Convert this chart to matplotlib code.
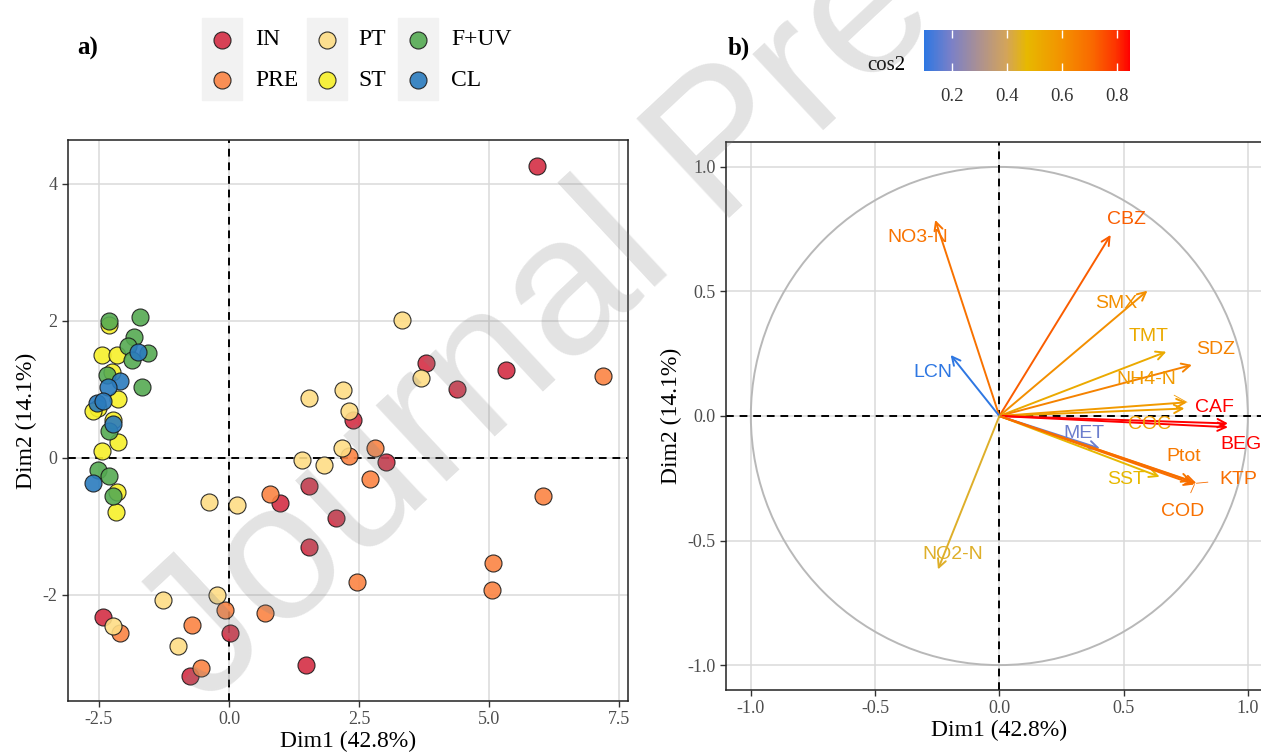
import numpy as np
import matplotlib
matplotlib.use('Agg')
import matplotlib.pyplot as plt
from matplotlib import colors
from matplotlib.cm import ScalarMappable
from matplotlib.patches import Circle, Rectangle

# Data
# =============================================================================

# a) individuals, one pair of lists per group
groups = ['IN', 'PRE', 'PT', 'ST', 'F+UV', 'CL']
group_colors = ['#D42E45', '#FB8444', '#FEDD85', '#F7F02A', '#55AA52', '#2A7BBE']

in_x = [5.92, 3.79, 5.33, 4.39, 2.38, 3.02, 1.54, 0.99, 2.06, 1.54, -2.42, 0.01, -0.75, 1.49]
in_y = [4.26, 1.38, 1.28, 1.01, 0.55, -0.06, -0.41, -0.66, -0.88, -1.30, -2.32, -2.56, -3.18, -3.02]
pre_x = [7.19, 2.31, 2.81, 2.72, 6.03, 0.79, 2.46, -0.08, 0.69, -2.10, -0.72, -0.53, 5.08, 5.06]
pre_y = [1.19, 0.03, 0.15, -0.30, -0.55, -0.52, -1.81, -2.22, -2.26, -2.56, -2.44, -3.07, -1.53, -1.93]
pt_x = [3.32, 3.70, 1.53, 2.20, 2.31, 2.17, 1.40, 1.83, -1.26, -0.23, -2.23, -0.99, -0.38, 0.15]
pt_y = [2.01, 1.17, 0.88, 0.99, 0.69, 0.14, -0.03, -0.11, -2.07, -2.00, -2.45, -2.74, -0.64, -0.69]
st_x = [-2.31, -2.45, -2.15, -2.25, -2.13, -2.52, -2.62, -2.23, -2.13, -2.44, -2.15, -2.17]
st_y = [1.94, 1.50, 1.50, 1.26, 0.86, 0.73, 0.69, 0.55, 0.23, 0.10, -0.50, -0.79]
fuv_x = [-2.31, -1.71, -1.83, -1.95, -1.55, -1.87, -2.35, -1.67, -2.31, -2.52, -2.31, -2.23]
fuv_y = [2.00, 2.05, 1.77, 1.63, 1.53, 1.43, 1.21, 1.04, 0.39, -0.18, -0.26, -0.55]
cl_x = [-1.75, -2.10, -2.33, -2.54, -2.42, -2.23, -2.62]
cl_y = [1.55, 1.12, 1.04, 0.80, 0.83, 0.50, -0.36]

group_x = [in_x, pre_x, pt_x, st_x, fuv_x, cl_x]
group_y = [in_y, pre_y, pt_y, st_y, fuv_y, cl_y]

# b) variables (coordinates on Dim1 / Dim2)
var_names = ['NO3-N', 'CBZ', 'SMX', 'TMT', 'SDZ', 'NH4-N', 'COC', 'CAF', 'BEG',
             'MET', 'SST', 'Ptot', 'COD', 'KTP', 'LCN', 'NO2-N']
var_dim1 = [-0.258, 0.448, 0.596, 0.672, 0.775, 0.755, 0.745, 0.920, 0.920,
            0.404, 0.645, 0.775, 0.785, 0.793, -0.196, -0.247]
var_dim2 = [0.787, 0.727, 0.503, 0.258, 0.205, 0.055, 0.030, -0.030, -0.045,
            -0.130, -0.244, -0.262, -0.275, -0.270, 0.245, -0.616]

x_ticks_a = [-2.5, 0.0, 2.5, 5.0, 7.5]
x_labels_a = ['-2.5', '0.0', '2.5', '5.0', '7.5']
y_ticks_a = [-2, 0, 2, 4]
y_labels_a = ['-2', '0', '2', '4']
ticks_b = [-1.0, -0.5, 0.0, 0.5, 1.0]
labels_b = ['-1.0', '-0.5', '0.0', '0.5', '1.0']
cos2_ticks = [0.2, 0.4, 0.6, 0.8]

# Layout (label offsets from arrow tips, connector flag)
# =============================================================================
label_offsets = {
    'NO3-N': (-0.069, -0.069, False), 'CBZ': (0.063, 0.063, False),
    'SMX': (-0.125, -0.053, False), 'TMT': (-0.07, 0.06, False),
    'SDZ': (0.095, 0.063, False), 'NH4-N': (-0.163, 0.09, True),
    'COC': (-0.14, -0.066, False), 'CAF': (-0.054, 0.065, False),
    'BEG': (0.054, -0.071, False), 'MET': (-0.063, 0.06, False),
    'SST': (-0.134, -0.01, False), 'Ptot': (-0.033, 0.10, False),
    'COD': (-0.049, -0.109, True), 'KTP': (0.167, 0.016, True),
    'LCN': (-0.071, -0.07, False), 'NO2-N': (0.061, 0.061, False),
}

W, H = 1261, 756
plt.rcParams['font.family'] = ['Liberation Serif', 'DejaVu Serif']
tick_grey = '#4D4D4D'
grid_grey = '#DADADA'


def style_axes(ax):
    ax.set_facecolor('none')
    ax.grid(color=grid_grey, lw=1.1)
    ax.set_axisbelow(True)
    for s in ax.spines.values():
        s.set_color('#222222')
        s.set_linewidth(1.1)
    ax.tick_params(length=4, width=1, color='#333333', labelcolor=tick_grey, labelsize=13)
    ax.axhline(0, color='black', ls=(0, (4, 3)), lw=1.4, zorder=1.5)
    ax.axvline(0, color='black', ls=(0, (4, 3)), lw=1.4, zorder=1.5)
    ax.set_xlabel('Dim1 (42.8%)', fontsize=17, labelpad=2)
    ax.set_ylabel('Dim2 (14.1%)', fontsize=17, labelpad=4)


fig = plt.figure(figsize=(W / 100, H / 100), dpi=100)

# a) individuals
ax1 = fig.add_axes([68 / W, 55 / H, 560 / W, 561 / H])
style_axes(ax1)
for gx, gy, c in zip(group_x, group_y, group_colors):
    ax1.scatter(gx, gy, s=150, color=c, edgecolor='#1A1A1A', linewidth=0.8, alpha=0.9, zorder=3)
ax1.set_xlim(-3.096, 7.673)
ax1.set_ylim(-3.547, 4.64)
ax1.set_xticks(x_ticks_a)
ax1.set_xticklabels(x_labels_a)
ax1.set_yticks(y_ticks_a)
ax1.set_yticklabels(y_labels_a)

# b) variables
ax2 = fig.add_axes([726 / W, 66 / H, 546.7 / W, 548 / H])
style_axes(ax2)
ax2.add_patch(Circle((0, 0), 1, fill=False, color='#B8B8B8', lw=1.4, zorder=1))
ax2.set_xlim(-1.1, 1.1)
ax2.set_ylim(-1.1, 1.1)
ax2.set_xticks(ticks_b)
ax2.set_xticklabels(labels_b)
ax2.set_yticks(ticks_b)
ax2.set_yticklabels(labels_b)

d1 = np.array(var_dim1)
d2 = np.array(var_dim2)
cos2 = d1 ** 2 + d2 ** 2
# blue -> gold -> red, with stops that mimic a Lab-space gradient
cmap = colors.LinearSegmentedColormap.from_list('cos2', [
    (0.0, '#2E77E2'), (0.13, '#7A80C8'), (0.27, '#AD9190'), (0.40, '#D3A45A'),
    (0.5, '#E7B800'), (0.67, '#F39200'), (0.82, '#F96800'), (0.93, '#FD3500'),
    (1.0, '#FF0000')])
norm = colors.Normalize(cos2.min(), cos2.max())

for name, x, y, c2 in zip(var_names, d1, d2, cos2):
    col = cmap(norm(c2))
    ax2.annotate('', xy=(x, y), xytext=(0, 0),
                 arrowprops=dict(arrowstyle='->, head_length=0.6, head_width=0.3',
                                 color=col, lw=1.4, shrinkA=0, shrinkB=0), zorder=3)
for name, x, y, c2 in zip(var_names, d1, d2, cos2):
    col = cmap(norm(c2))
    dx, dy, seg = label_offsets[name]
    props = dict(arrowstyle='-', color=col, lw=0.6, shrinkA=6, shrinkB=0) if seg else None
    ax2.annotate(name, xy=(x, y), xytext=(x + dx, y + dy), color=col, fontsize=14,
                 family='Liberation Sans', ha='center', va='center',
                 arrowprops=props, zorder=4)

# colour bar for cos2
cax = fig.add_axes([924 / W, (H - 71) / H, 206 / W, 41 / H])
cb = fig.colorbar(ScalarMappable(norm=norm, cmap=cmap), cax=cax,
                  orientation='horizontal', ticks=cos2_ticks)
cb.outline.set_visible(False)
cax.tick_params(axis='x', direction='in', color='white', length=6, width=1,
                top=True, labelsize=13.5, labelcolor='#333333', pad=12)
fig.text(867 / W, 1 - 66 / H, 'cos2', fontsize=15, va='center', ha='left')

# legend for groups
leg = fig.add_axes([195 / W, (H - 105) / H, 310 / W, 95 / H])
leg.set_xlim(195, 505)
leg.set_ylim(105, 10)
leg.axis('off')
key_x = [222, 327, 418]
text_x = [255, 358, 451]
row_y = [40, 80]
for k in range(3):
    leg.add_patch(Rectangle((key_x[k] - 20, 18), 40, 82, color='#F2F2F2', zorder=0))
for i, (g, c) in enumerate(zip(groups, group_colors)):
    col, row = i // 2, i % 2
    leg.scatter([key_x[col]], [row_y[row]], s=150, color=c, edgecolor='#1A1A1A',
                linewidth=0.8, alpha=0.9, zorder=2)
    leg.text(text_x[col], row_y[row], g, fontsize=17, va='center', ha='left')

fig.text(77 / W, 1 - 48 / H, 'a)', fontsize=18, fontweight='bold', va='center')
fig.text(728 / W, 1 - 48 / H, 'b)', fontsize=18, fontweight='bold', va='center')

# watermark
fig.text(205 / W, 1 - 707 / H, 'Journal Pre-proof', fontsize=142, family='Liberation Sans',
         color='#808080', alpha=0.22, rotation=43, rotation_mode='anchor',
         ha='left', va='baseline', zorder=10)

fig.savefig('out.png', dpi=100)
